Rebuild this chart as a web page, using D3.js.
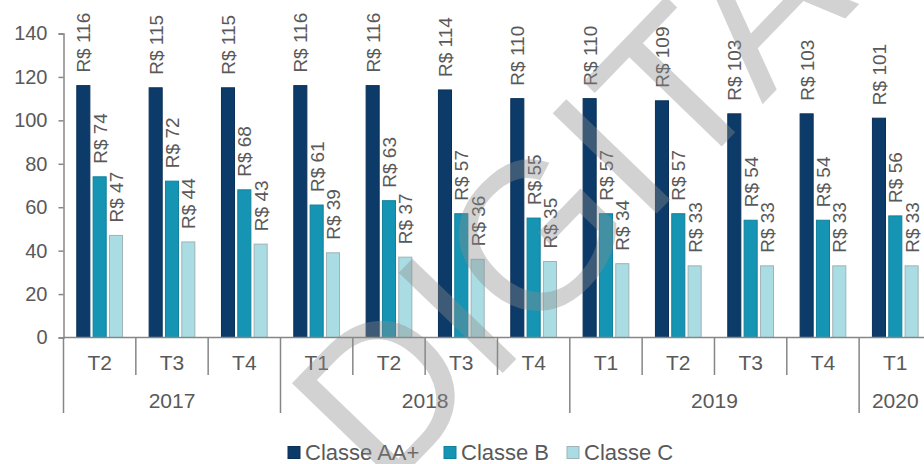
<!DOCTYPE html>
<html><head><meta charset="utf-8">
<script src="https://cdn.jsdelivr.net/npm/d3@7"></script>
<style>
body{margin:0;background:#fff}
svg{display:block}
text{font-family:"Liberation Sans",Arial,sans-serif;fill:#595959}
</style>
</head><body><svg id="c" width="924" height="464"></svg>
<script>
const quarters = ["T2","T3","T4","T1","T2","T3","T4","T1","T2","T3","T4","T1"];
const yearOfQuarter = ["2017","2017","2017","2018","2018","2018","2018","2019","2019","2019","2019","2020"];
const years = ["2017","2018","2019","2020"];
const seriesNames = ["Classe AA+","Classe B","Classe C"];
const classeAA = [116,115,115,116,116,114,110,110,109,103,103,101];
const classeB = [74,72,68,61,63,57,55,57,57,54,54,56];
const classeC = [47,44,43,39,37,36,35,34,33,33,33,33];
const yTicks = [0,20,40,60,80,100,120,140];
const colors = ["#0c3b69","#1594b3","#a9dde3"];
const strokes = ["#0a3058","#0f819c","#9fb3b6"];

const seriesValues = [classeAA, classeB, classeC];
const svg = d3.select("#c");
const axisColor = "#868686";

const step = 72.33;
const x = d3.scaleBand().domain(d3.range(quarters.length)).range([63.5, 63.5 + step * quarters.length]).padding(0);
const x1 = d3.scaleBand().domain(d3.range(3)).range([13.3, step - 13.3]).paddingInner(0.2);
const y = d3.scaleLinear().domain([0, 140]).range([337.5, 33.5]);

// y axis
const yAxis = svg.append("g").attr("transform", "translate(63.5,0)")
  .call(d3.axisLeft(y).tickValues(yTicks).tickSize(5).tickPadding(11).tickFormat(d3.format("d")));
yAxis.select(".domain").attr("stroke", axisColor).attr("stroke-width", 1.5);
yAxis.selectAll(".tick line").attr("stroke", axisColor).attr("stroke-width", 1.5);
yAxis.selectAll(".tick text").attr("font-size", 20).style("fill", "#595959")
  .attr("font-family", '"Liberation Sans",Arial,sans-serif');

// bars
const bars = svg.append("g");
seriesValues.forEach((vals, s) => {
  bars.selectAll(null).data(vals).enter().append("rect")
    .attr("x", (d, i) => x(i) + x1(s))
    .attr("y", d => y(d))
    .attr("width", x1.bandwidth())
    .attr("height", d => y(0) - y(d))
    .attr("fill", colors[s])
    .attr("stroke", strokes[s])
    .attr("stroke-width", 1);
});

// labels
const labels = svg.append("g");
seriesValues.forEach((vals, s) => {
  labels.selectAll(null).data(vals).enter().append("text")
    .attr("transform", (d, i) => `translate(${x(i) + x1(s) + x1.bandwidth() / 2 + 0.5},${y(d) - 13}) rotate(-90)`)
    .attr("dy", "0.35em")
    .attr("font-size", 19)
    .text(d => "R$ " + d);
});

// x axis line
svg.append("line").attr("x1", 63.5).attr("x2", 924).attr("y1", y(0)).attr("y2", y(0))
  .attr("stroke", axisColor).attr("stroke-width", 1.5);

// separators
quarters.forEach((q, i) => {
  const newYear = i === 0 || yearOfQuarter[i] !== yearOfQuarter[i - 1];
  svg.append("line").attr("x1", x(i)).attr("x2", x(i))
    .attr("y1", y(0)).attr("y2", newYear ? 413 : 375)
    .attr("stroke", axisColor).attr("stroke-width", 1.5);
});

// quarter labels
svg.append("g").selectAll("text").data(quarters).enter().append("text")
  .attr("x", (d, i) => x(i) + x.bandwidth() / 2)
  .attr("y", 363).attr("dy", "0.35em")
  .attr("text-anchor", "middle").attr("font-size", 21)
  .text(d => d);

// year labels
years.forEach(yr => {
  const idx = yearOfQuarter.map((v, i) => v === yr ? i : -1).filter(i => i >= 0);
  const x0 = x(idx[0]), xEnd = x(idx[idx.length - 1]) + x.bandwidth();
  svg.append("text").attr("x", (x0 + xEnd) / 2).attr("y", 401).attr("dy", "0.35em")
    .attr("text-anchor", "middle").attr("font-size", 21).text(yr);
});

// legend
const legendX = [288, 444, 567];
const legend = svg.append("g");
seriesNames.forEach((n, s) => {
  legend.append("rect").attr("x", legendX[s]).attr("y", 446.5).attr("width", 12).attr("height", 12)
    .attr("fill", colors[s]).attr("stroke", strokes[s]).attr("stroke-width", 1);
  legend.append("text").attr("x", legendX[s] + 17).attr("y", 459.5)
    .attr("font-size", 22).text(n);
});

// watermark
svg.append("text")
  .attr("transform", "translate(384,496) rotate(-46)")
  .attr("font-size", 210)
  .style("fill", "#8c8c8c")
  .attr("opacity", 0.38)
  .attr("pointer-events", "none")
  .text("DIGITAL");
</script>
</body></html>
